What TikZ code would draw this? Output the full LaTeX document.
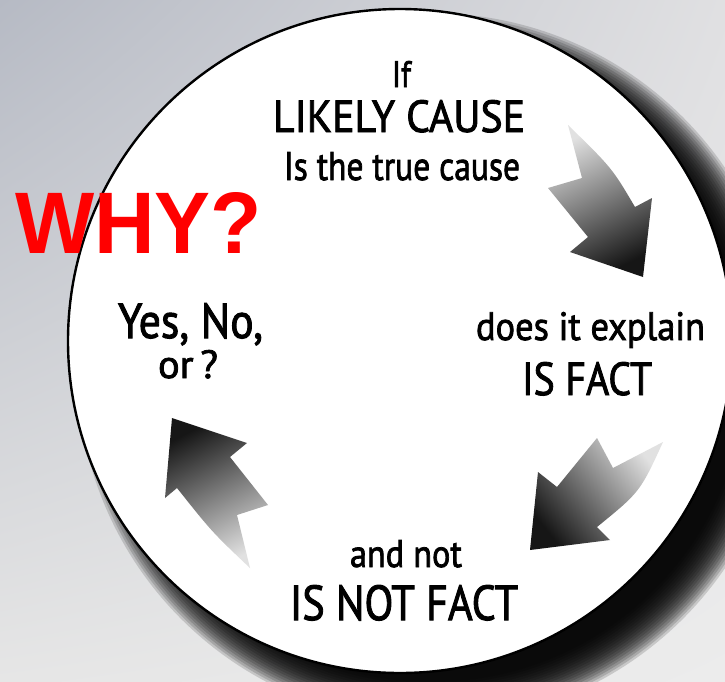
\documentclass[tikz,border=0pt]{standalone}
\usetikzlibrary{shadings}
\usepackage{fontspec}
\setmainfont{PT Sans}[FakeBold=2]
\newfontfamily\whyfont{Liberation Sans}
\usepackage{graphicx}
\definecolor{bgTL}{RGB}{182,186,196}
\definecolor{bgTR}{RGB}{224,224,226}
\definecolor{bgBL}{RGB}{230,230,230}
\definecolor{bgBR}{RGB}{236,236,236}
\definecolor{arrLight}{RGB}{225,225,225}
\definecolor{arrDark}{RGB}{22,22,22}
\definecolor{whyred}{RGB}{255,0,0}
\tikzset{
  txt/.style={inner sep=0pt, outer sep=0pt, anchor=base west, text=black},
  arrowshape/.style={top color=arrLight, bottom color=arrDark},
}
\newcommand{\fitbox}[3]{\resizebox{#1pt}{#2pt}{#3}}
\begin{document}
\begin{tikzpicture}[x=1pt,y=-1pt]
\useasboundingbox (0,0) rectangle (725,681);
\begin{scope}
\clip (0,0) rectangle (725,681);
% background
\shade[upper left=bgTL, upper right=bgTR, lower left=bgBL, lower right=bgBR] (0,0) rectangle (725,681);
% soft shadow
\foreach \k in {0,...,17} {
  \fill[black, opacity=0.15] (432,368) circle[radius={314pt+2.4pt*\k}];
}
% disc
\fill[white] (400,341) circle[radius=332pt];
\draw[black, line width=2.4pt] (400,341) circle[radius=332pt];
% arrows
\shade[arrowshape, shading angle=26]
  (568,125) -- (582,178) -- (548,188) -- (588,237) -- (570,252) -- (643,277)
  -- (652,198) -- (635,207) .. controls (612,168) .. (568,125) -- cycle;
\shade[arrowshape, shading angle=-51]
  (663,442) .. controls (640,492) .. (597,527) -- (610,540) -- (530,550)
  -- (538,472) -- (557,487) -- (597,438) -- (613,468) -- cycle;
\shade[arrowshape, shading angle=207]
  (172,418) -- (247,443) -- (230,457) -- (268,505) -- (237,515) -- (250,568)
  .. controls (212,532) .. (177,488) -- (165,498) -- cycle;
\end{scope}
% texts
\node[txt] (if) at (392,87) {\fitbox{19}{26}{If}};
\node[txt] (likely) at (273,132) {\fitbox{252}{32}{LIKELY CAUSE}};
\node[txt] (istrue) at (284,180) {\fitbox{236}{28}{Is the true cause}};
\node[txt] (why) at (15,253) {\fitbox{247}{61}{\whyfont\bfseries\color{whyred}WHY?}};
\node[txt] (yesno) at (118,338) {\fitbox{145}{35}{Yes, No,}};
\node[txt] (orq) at (158,378) {\fitbox{60}{28}{or\,?}};
\node[txt] (does) at (476,340) {\fitbox{229}{28}{does it explain}};
\node[txt] (isfact) at (522,395) {\fitbox{130}{33}{IS FACT}};
\node[txt] (andnot) at (350,567) {\fitbox{112}{27}{and not}};
\node[txt] (isnot) at (290,620) {\fitbox{228}{35}{IS NOT FACT}};
\end{tikzpicture}
\end{document}
